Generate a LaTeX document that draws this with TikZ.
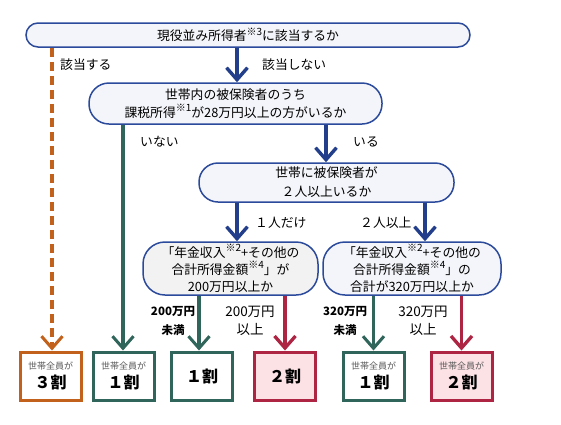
\documentclass[tikz,border=0pt]{standalone}
\usepackage{fontspec}
\setmainfont{Noto Sans CJK JP}
\usetikzlibrary{arrows.meta,calc}
\definecolor{cblue}{HTML}{233F8C}
\definecolor{cbox}{HTML}{2B4A9B}
\definecolor{cfill}{HTML}{F4F5FA}
\definecolor{cteal}{HTML}{2F655A}
\definecolor{corange}{HTML}{C2611B}
\definecolor{cred}{HTML}{AE2443}
\definecolor{cpink}{HTML}{FCE1E5}
\tikzset{
  qbox/.style={draw=cbox,line width=1.5pt,fill=cfill,align=center,inner sep=1pt,font=\fontsize{12.8}{14}\selectfont},
  rbox/.style={line width=3pt,minimum width=61pt,minimum height=48pt,align=center,inner sep=0pt,fill=white},
  tip/.style={-{Straight Barb[length=12pt,width=21pt,line width=#1]}},
  barr/.style={draw=cblue,line width=4.5pt,tip=3.4pt},
  tarr/.style={draw=cteal,line width=3.2pt,tip=3pt},
  oarr/.style={draw=corange,line width=3.2pt,dash pattern=on 9pt off 5pt,tip=3pt},
  rarr/.style={draw=cred,line width=3.8pt,tip=3.3pt},
  lab/.style={font=\fontsize{12.8}{14}\selectfont,anchor=west,inner sep=0pt},
  slab/.style={font=\fontsize{11.5}{19}\selectfont\bfseries,align=center,inner sep=0pt},
  blab/.style={font=\fontsize{13.5}{18}\selectfont,align=center,inner sep=0pt},
}
\newcommand{\smalltxt}[1]{{\fontsize{9}{10}\selectfont\color{black!65}#1}}
\newcommand{\bigtxt}[1]{{\fontsize{16}{18}\selectfont\bfseries #1}}
\newcommand{\sups}[1]{\raisebox{0.42em}{\fontsize{10}{10}\selectfont #1}}
\begin{document}
\begin{tikzpicture}[x=1pt,y=-1pt]
\useasboundingbox[fill=white] (0,0) rectangle (561,424);
% question boxes
\node[qbox,minimum width=444pt,minimum height=24pt,rounded corners=12pt] (top) at (248,35) {現役並み所得者\sups{※3}に該当するか};
\node[qbox,minimum width=293pt,minimum height=41pt,rounded corners=20pt,font=\fontsize{12.8}{18}\selectfont] (q2) at (235.5,103.5) {世帯内の被保険者のうち\\課税所得\sups{※1}が28万円以上の方がいるか};
\node[qbox,minimum width=255pt,minimum height=39pt,rounded corners=19pt,font=\fontsize{12.8}{19}\selectfont] (q3) at (326.5,182.5) {世帯に被保険者が\\２人以上いるか};
\node[qbox,minimum width=175pt,minimum height=53pt,rounded corners=22pt,fill=black!5,font=\fontsize{12.8}{17}\selectfont] (q4) at (230.5,268.5) {「年金収入\sups{※2}+その他の\\合計所得金額\sups{※4}」が\\200万円以上か};
\node[qbox,minimum width=178pt,minimum height=53pt,rounded corners=22pt,font=\fontsize{12.8}{17}\selectfont] (q5) at (412,268.5) {「年金収入\sups{※2}+その他の\\合計所得金額\sups{※4}」の\\合計が320万円以上か};
% result boxes
\node[rbox,draw=corange] (b1) at (50.5,376) {\shortstack{\smalltxt{世帯全員が}\\[2pt]\bigtxt{３割}}};
\node[rbox,draw=cteal] (b2) at (123.5,376) {\shortstack{\smalltxt{世帯全員が}\\[2pt]\bigtxt{１割}}};
\node[rbox,draw=cteal] (b3) at (202,376) {\bigtxt{１割}};
\node[rbox,draw=cred,fill=cpink] (b4) at (285,376) {\bigtxt{２割}};
\node[rbox,draw=cteal] (b5) at (373.5,376) {\shortstack{\smalltxt{世帯全員が}\\[2pt]\bigtxt{１割}}};
\node[rbox,draw=cred,fill=cpink] (b6) at (461.5,376) {\shortstack{\smalltxt{世帯全員が}\\[2pt]\bigtxt{２割}}};
% connectors
\draw[oarr] ([xshift=1.5pt]top.south -| b1) -- ([xshift=1.5pt]b1.north);
\draw[barr] ([xshift=1.5pt]top.south -| q2) -- ([xshift=1.5pt]q2.north);
\draw[tarr] ([xshift=-0.5pt]q2.south -| b2) -- ([xshift=-0.5pt]b2.north);
\draw[barr] ([xshift=-0.5pt]q2.south -| q3) -- ([xshift=-0.5pt]q3.north);
\draw[barr] ([xshift=6.5pt]q3.south -| q4) -- ([xshift=6.5pt]q4.north);
\draw[barr] ([xshift=13pt]q3.south -| q5) -- ([xshift=13pt]q5.north);
\draw[tarr] ([xshift=-3pt]q4.south -| b3) -- ([xshift=-3pt]b3.north);
\draw[rarr] (q4.south -| b4) -- (b4.north);
\draw[tarr] (q5.south -| b5) -- (b5.north);
\draw[rarr] (q5.south -| b6) -- (b6.north);
% labels
\node[lab] (l1) at (60,65) {該当する};
\node[lab] (l2) at (262,65) {該当しない};
\node[lab] (l3) at (140,142) {いない};
\node[lab] (l4) at (353,142) {いる};
\node[lab] (l5) at (255,223) {１人だけ};
\node[lab] (l6) at (360,223) {２人以上};
\node[slab] (l7) at (173,321) {200万円\\未満};
\node[blab] (l8) at (250,321) {200万円\\以上};
\node[slab] (l9) at (345,321) {320万円\\未満};
\node[blab] (l10) at (423,321) {320万円\\以上};
\end{tikzpicture}
\end{document}
